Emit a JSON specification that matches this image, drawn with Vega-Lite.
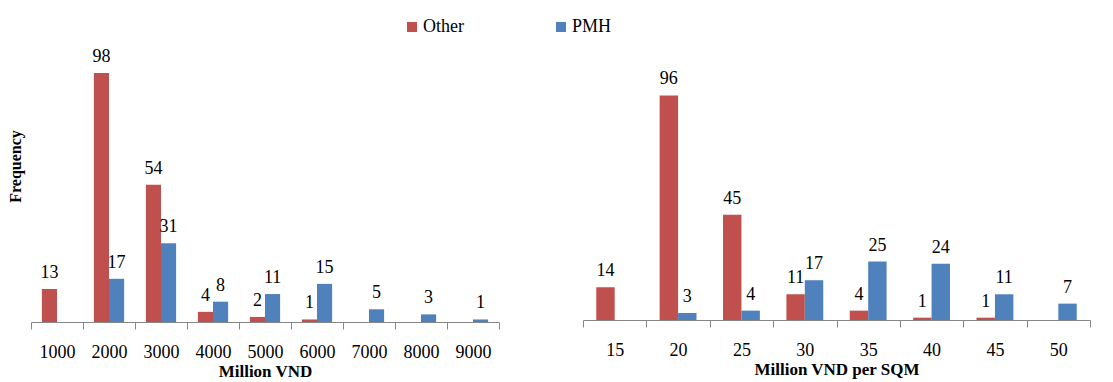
{
  "$schema": "https://vega.github.io/schema/vega-lite/v6.json",
  "padding": {"left": 7, "top": 10, "right": 0, "bottom": 0},
  "background": "white",
  "config": {
    "view": {"stroke": null},
    "font": "Liberation Serif",
    "axis": {
      "domainColor": "#868686",
      "tickColor": "#868686",
      "tickSize": 7,
      "labelFontSize": 18,
      "labelColor": "#000000",
      "labelPadding": 14,
      "titleFontSize": 17,
      "titleFontWeight": "bold",
      "titleColor": "#000000",
      "titlePadding": 2,
      "grid": false
    },
    "legend": {
      "labelFontSize": 18,
      "labelColor": "#000000",
      "symbolType": "square",
      "symbolSize": 100,
      "symbolStrokeWidth": 0,
      "padding": 0
    }
  },
  "datasets": {
    "price": [
      {"bin": "1000", "series": "Other", "n": 13},
      {"bin": "2000", "series": "Other", "n": 98},
      {"bin": "2000", "series": "PMH", "n": 17},
      {"bin": "3000", "series": "Other", "n": 54},
      {"bin": "3000", "series": "PMH", "n": 31},
      {"bin": "4000", "series": "Other", "n": 4},
      {"bin": "4000", "series": "PMH", "n": 8},
      {"bin": "5000", "series": "Other", "n": 2},
      {"bin": "5000", "series": "PMH", "n": 11},
      {"bin": "6000", "series": "Other", "n": 1},
      {"bin": "6000", "series": "PMH", "n": 15},
      {"bin": "7000", "series": "PMH", "n": 5},
      {"bin": "8000", "series": "PMH", "n": 3},
      {"bin": "9000", "series": "PMH", "n": 1}
    ],
    "sqm": [
      {"bin": "15", "series": "Other", "n": 14},
      {"bin": "20", "series": "Other", "n": 96},
      {"bin": "20", "series": "PMH", "n": 3},
      {"bin": "25", "series": "Other", "n": 45},
      {"bin": "25", "series": "PMH", "n": 4},
      {"bin": "30", "series": "Other", "n": 11},
      {"bin": "30", "series": "PMH", "n": 17},
      {"bin": "35", "series": "Other", "n": 4},
      {"bin": "35", "series": "PMH", "n": 25},
      {"bin": "40", "series": "Other", "n": 1},
      {"bin": "40", "series": "PMH", "n": 24},
      {"bin": "45", "series": "Other", "n": 1},
      {"bin": "45", "series": "PMH", "n": 11},
      {"bin": "50", "series": "PMH", "n": 7}
    ]
  },
  "spacing": 82,
  "hconcat": [
    {
      "width": 468,
      "height": 312,
      "data": {"name": "price"},
      "encoding": {
        "x": {
          "field": "bin", "type": "ordinal",
          "scale": {"domain": ["1000","2000","3000","4000","5000","6000","7000","8000","9000"], "paddingInner": 0, "paddingOuter": 0},
          "axis": {"title": "Million VND", "labelAngle": 0, "tickBand": "extent"}
        },
        "xOffset": {"field": "series", "type": "nominal", "scale": {"domain": ["Other","PMH"], "paddingInner": 0, "paddingOuter": 0.72}},
        "y": {
          "field": "n", "type": "quantitative",
          "scale": {"domain": [0, 122.8], "nice": false},
          "axis": {"title": "Frequency", "labels": false, "ticks": false, "domain": false, "titlePadding": 8, "titleFontSize": 16}
        }
      },
      "layer": [
        {
          "mark": {"type": "bar"},
          "encoding": {
            "color": {
              "field": "series", "type": "nominal",
              "scale": {"domain": ["Other","PMH"], "range": ["#C0504D","#4F81BD"]},
              "legend": {"title": null, "orient": "none", "direction": "horizontal", "legendX": 372, "legendY": 8, "columnPadding": 88, "labelOffset": 2}
            }
          }
        },
        {
          "mark": {"type": "text", "baseline": "alphabetic", "dy": -11, "fontSize": 18, "color": "#000000"},
          "encoding": {"text": {"field": "n", "type": "quantitative"}}
        }
      ]
    },
    {
      "width": 507,
      "height": 310,
      "data": {"name": "sqm"},
      "encoding": {
        "x": {
          "field": "bin", "type": "ordinal",
          "scale": {"domain": ["15","20","25","30","35","40","45","50"], "paddingInner": 0, "paddingOuter": 0},
          "axis": {"title": "Million VND per SQM", "labelAngle": 0, "tickBand": "extent"}
        },
        "xOffset": {"field": "series", "type": "nominal", "scale": {"domain": ["Other","PMH"], "paddingInner": 0, "paddingOuter": 0.72}},
        "y": {
          "field": "n", "type": "quantitative",
          "scale": {"domain": [0, 132.5], "nice": false},
          "axis": null
        }
      },
      "layer": [
        {
          "mark": {"type": "bar"},
          "encoding": {
            "color": {
              "field": "series", "type": "nominal",
              "scale": {"domain": ["Other","PMH"], "range": ["#C0504D","#4F81BD"]},
              "legend": {"title": null, "orient": "none", "direction": "horizontal", "legendX": 372, "legendY": 8, "columnPadding": 88, "labelOffset": 2}
            }
          }
        },
        {
          "mark": {"type": "text", "baseline": "alphabetic", "dy": -11, "fontSize": 18, "color": "#000000"},
          "encoding": {"text": {"field": "n", "type": "quantitative"}}
        }
      ]
    }
  ],
  "resolve": {"scale": {"y": "independent", "x": "independent", "xOffset": "independent"}}
}
